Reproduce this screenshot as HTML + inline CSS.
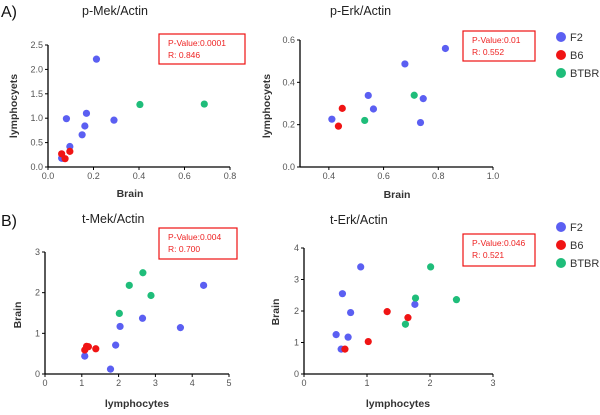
<!DOCTYPE html>
<html><head><meta charset="utf-8"><style>
body{margin:0;background:#fff;width:600px;height:410px;overflow:hidden}
svg{font-family:"Liberation Sans",sans-serif}
</style></head><body>
<svg id="s" width="600" height="410"></svg>
<script>
// Chart A1: p-Mek/Actin
const a1BlueX=[0.213,0.081,0.169,0.29,0.162,0.15,0.096,0.06,0.066];
const a1BlueY=[2.21,0.99,1.10,0.96,0.84,0.66,0.42,0.18,0.18];
const a1RedX=[0.06,0.075,0.096];
const a1RedY=[0.27,0.17,0.32];
const a1GreenX=[0.404,0.687];
const a1GreenY=[1.28,1.29];
const a1XTicks=["0.0","0.2","0.4","0.6","0.8"];
const a1YTicks=["0.0","0.5","1.0","1.5","2.0","2.5"];
// Chart A2: p-Erk/Actin
const a2BlueX=[0.826,0.678,0.544,0.745,0.563,0.411,0.735];
const a2BlueY=[0.56,0.487,0.338,0.323,0.274,0.226,0.21];
const a2RedX=[0.449,0.435];
const a2RedY=[0.277,0.193];
const a2GreenX=[0.712,0.531];
const a2GreenY=[0.339,0.22];
const a2XTicks=["0.4","0.6","0.8","1.0"];
const a2YTicks=["0.0","0.2","0.4","0.6"];
// Chart B1: t-Mek/Actin
const b1BlueX=[4.31,2.65,3.68,2.04,1.92,1.08,1.78];
const b1BlueY=[2.18,1.37,1.14,1.17,0.71,0.44,0.12];
const b1RedX=[1.08,1.13,1.18,1.38];
const b1RedY=[0.59,0.68,0.67,0.62];
const b1GreenX=[2.66,2.29,2.88,2.02];
const b1GreenY=[2.49,2.18,1.93,1.49];
const b1XTicks=["0","1","2","3","4","5"];
const b1YTicks=["0","1","2","3"];
// Chart B2: t-Erk/Actin
const b2BlueX=[0.90,0.61,0.74,1.76,0.51,0.70,0.59];
const b2BlueY=[3.40,2.55,1.95,2.21,1.25,1.17,0.79];
const b2RedX=[0.65,1.32,1.65,1.02];
const b2RedY=[0.79,1.98,1.79,1.03];
const b2GreenX=[2.01,1.77,2.42,1.61];
const b2GreenY=[3.40,2.41,2.36,1.58];
const b2XTicks=["0","1","2","3"];
const b2YTicks=["0","1","2","3","4"];

const NS="http://www.w3.org/2000/svg";
const svg=document.getElementById('s');
function el(tag,attrs,parent,txt){const e=document.createElementNS(NS,tag);for(const k in attrs)e.setAttribute(k,attrs[k]);if(txt!==undefined)e.textContent=txt;(parent||svg).appendChild(e);return e;}
const BLUE="#5b5ff2",RED="#f01414",GREEN="#1fbd7a";

function chart(o){
  const g=el('g',{});
  
  
  const sx=v=>o.x0+(v-o.xmin)/(o.xmax-o.xmin)*(o.x1-o.x0);
  const sy=v=>o.y0-(v-o.ymin)/(o.ymax-o.ymin)*(o.y0-o.y1);
  const ya=el('line',{x1:o.x0,y1:o.y0,x2:o.x0,y2:o.y1,stroke:'#000','stroke-width':1.3},g);
  
  const xa=el('line',{x1:o.x0,y1:o.y0,x2:o.x1,y2:o.y0,stroke:'#000','stroke-width':1.3},g);
  
  o.xt.forEach(t=>{const x=sx(parseFloat(t));
    el('line',{x1:x,y1:o.y0,x2:x,y2:o.y0+3,stroke:'#000'},g);
    const tx=el('text',{x:x,y:o.y0+12,'font-size':9,fill:'#555','text-anchor':'middle'},g,t);
    });
  o.yt.forEach(t=>{const y=sy(parseFloat(t));
    el('line',{x1:o.x0-3,y1:y,x2:o.x0,y2:y,stroke:'#000'},g);
    const tx=el('text',{x:o.x0-5,y:y+3,'font-size':9,fill:'#555','text-anchor':'end'},g,t);
    });
  const xl=el('text',{x:o.xlx,y:o.xly,'font-size':10.5,'font-weight':'bold',fill:'#333','text-anchor':'middle'},g,o.xl);
  
  const yl=el('text',{x:o.ylx,y:o.yly,'font-size':10.5,'font-weight':'bold',fill:'#333','text-anchor':'middle',transform:`rotate(-90 ${o.ylx} ${o.yly})`},g,o.yl);
  
  const ti=el('text',{x:o.tx,y:o.ty,'font-size':12.5,fill:'#222'},g,o.title);
  
  [[o.bx,o.by,BLUE,'f2-point'],[o.rx,o.ry,RED,'b6-point'],[o.gx,o.gy,GREEN,'btbr-point']].forEach(([xs,ys,c,n])=>{
    xs.forEach((v,i)=>{const p=el('circle',{cx:sx(v),cy:sy(ys[i]),r:3.6,fill:c},g);
      });
  });
  const b=el('rect',{x:o.box[0],y:o.box[1],width:o.box[2],height:o.box[3],fill:'none',stroke:'#e11','stroke-width':1.2},g);
  
  const t1=el('text',{x:o.box[0]+9,y:o.box[1]+12,'font-size':8.5,fill:'#e22'},g,o.p);
  
  const t2=el('text',{x:o.box[0]+9,y:o.box[1]+24,'font-size':8.5,fill:'#e22'},g,o.r);
  
}
function legend(y0,name){
  const g=el('g',{});
  [['F2',BLUE],['B6',RED],['BTBR',GREEN]].forEach(([l,c],i)=>{
    const y=y0+i*18;
    const d=el('circle',{cx:561,cy:y,r:5,fill:c},g);
    const t=el('text',{x:570,y:y+4,'font-size':11,fill:'#333'},g,l);
  });
}
const la=el('text',{x:1,y:17,'font-size':16,fill:'#111'},svg,'A)');
const lb=el('text',{x:1,y:226,'font-size':16,fill:'#111'},svg,'B)');

chart({name:'p-mek-chart',x0:48,x1:230,y0:167,y1:45,xmin:0,xmax:0.8,ymin:0,ymax:2.5,xt:a1XTicks,yt:a1YTicks,
  xl:'Brain',xlx:130,xly:197,yl:'lymphocyets',ylx:17,yly:106,title:'p-Mek/Actin',tx:82,ty:15,
  bx:a1BlueX,by:a1BlueY,rx:a1RedX,ry:a1RedY,gx:a1GreenX,gy:a1GreenY,box:[159,34,86,30],p:'P-Value:0.0001',r:'R: 0.846'});
chart({name:'p-erk-chart',x0:300,x1:493,y0:167,y1:40,xmin:0.2945,xmax:1.0,ymin:0,ymax:0.6,xt:a2XTicks,yt:a2YTicks,
  xl:'Brain',xlx:397,xly:198,yl:'lymphocyets',ylx:270,yly:106,title:'p-Erk/Actin',tx:330,ty:15,
  bx:a2BlueX,by:a2BlueY,rx:a2RedX,ry:a2RedY,gx:a2GreenX,gy:a2GreenY,box:[463,31,72,30],p:'P-Value:0.01',r:'R: 0.552'});
chart({name:'t-mek-chart',x0:45,x1:229,y0:374,y1:252,xmin:0,xmax:5,ymin:0,ymax:3,xt:b1XTicks,yt:b1YTicks,
  xl:'lymphocytes',xlx:137,xly:407,yl:'Brain',ylx:21,yly:315,title:'t-Mek/Actin',tx:82,ty:223,
  bx:b1BlueX,by:b1BlueY,rx:b1RedX,ry:b1RedY,gx:b1GreenX,gy:b1GreenY,box:[159,228,78,31],p:'P-Value:0.004',r:'R: 0.700'});
chart({name:'t-erk-chart',x0:304,x1:493,y0:374,y1:248,xmin:0,xmax:3,ymin:0,ymax:4,xt:b2XTicks,yt:b2YTicks,
  xl:'lymphocytes',xlx:398,xly:407,yl:'Brain',ylx:279,yly:312,title:'t-Erk/Actin',tx:330,ty:224,
  bx:b2BlueX,by:b2BlueY,rx:b2RedX,ry:b2RedY,gx:b2GreenX,gy:b2GreenY,box:[463,234,72,32],p:'P-Value:0.046',r:'R: 0.521'});
legend(37,'legend-a');
legend(227,'legend-b');
</script>
</body></html>
